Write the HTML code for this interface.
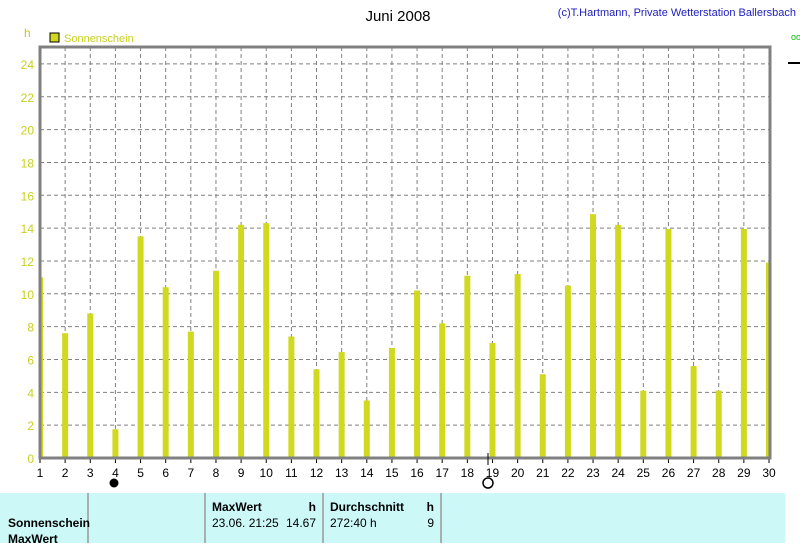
<!DOCTYPE html>
<html><head><meta charset="utf-8"><style>
body{margin:0;background:#fff;width:800px;height:543px;overflow:hidden;font-family:"Liberation Sans",sans-serif;}
svg text{font-family:"Liberation Sans",sans-serif;}
</style></head><body>
<svg id="chart" width="800" height="543">
<text x="398" y="21" font-size="15" text-anchor="middle" fill="#000">Juni 2008</text>
<text x="796" y="16" font-size="11" text-anchor="end" fill="#2020c0">(c)T.Hartmann, Private Wetterstation Ballersbach</text>
<text x="24" y="37" font-size="12" fill="#c8c820">h</text>
<rect x="50" y="33" width="9" height="9" fill="#d0d820" stroke="#000"/>
<text x="64" y="42" font-size="11" fill="#c8d020">Sonnenschein</text>
<g id="grid"></g><g id="bars"></g><g id="axes"></g>
<rect x="40" y="47" width="730" height="411" fill="none" stroke="#808080" stroke-width="3"/>
<line x1="488" y1="453" x2="488" y2="465" stroke="#000"/>
<circle cx="114" cy="483" r="4.5" fill="#000"/>
<circle cx="488" cy="483" r="5" fill="#fff" stroke="#000" stroke-width="1.5"/>
<rect x="0" y="493" width="785" height="50" fill="#ccf8f8"/>
<g stroke="#999" stroke-width="1.5"><line x1="88" y1="493" x2="88" y2="543"/><line x1="205" y1="493" x2="205" y2="543"/><line x1="323" y1="493" x2="323" y2="543"/><line x1="441" y1="493" x2="441" y2="543"/></g>
<g font-size="12" fill="#000">
<text x="8" y="527" font-weight="bold">Sonnenschein</text>
<text x="8" y="543" font-weight="bold">MaxWert</text>
<text x="212" y="511" font-weight="bold">MaxWert</text>
<text x="316" y="511" font-weight="bold" text-anchor="end">h</text>
<text x="212" y="527">23.06.  21:25</text>
<text x="316" y="527" text-anchor="end">14.67</text>
<text x="330" y="511" font-weight="bold">Durchschnitt</text>
<text x="434" y="511" font-weight="bold" text-anchor="end">h</text>
<text x="330" y="527">272:40 h</text>
<text x="434" y="527" text-anchor="end">9</text>
</g>
<line x1="788" y1="63" x2="800" y2="63" stroke="#000" stroke-width="2"/>
<text x="791" y="40" font-size="9" fill="#00c000">oo</text>
</svg>
<script>
const days=[1,2,3,4,5,6,7,8,9,10,11,12,13,14,15,16,17,18,19,20,21,22,23,24,25,26,27,28,29,30];
const sunshine=[11,7.6,8.8,1.75,13.5,10.4,7.7,11.4,14.2,14.3,7.4,5.4,6.45,3.5,6.7,10.2,8.2,11.1,7.0,11.2,5.1,10.5,14.85,14.2,4.1,13.95,5.6,4.1,13.95,11.9];
const yTicks=[0,2,4,6,8,10,12,14,16,18,20,22,24];
const NS='http://www.w3.org/2000/svg';
const x=d=>40+(d-1)*(729/29);
const y=v=>458-v*16.42;
function mk(tag,attrs,parent){const e=document.createElementNS(NS,tag);for(const k in attrs)e.setAttribute(k,attrs[k]);parent.appendChild(e);return e;}
const grid=document.getElementById('grid'),bars=document.getElementById('bars'),axes=document.getElementById('axes');
yTicks.forEach(t=>{
 if(t>0){const l=mk('line',{x1:40,x2:770,y1:y(t),y2:y(t),stroke:'#808080','stroke-dasharray':'4,3'},grid);
 
 }
 const tx=mk('text',{x:34,y:y(t)+5,'font-size':12,'text-anchor':'end',fill:'#c8d020'},axes);tx.textContent=t;
 
 
});
days.forEach((d,i)=>{
 if(d>1&&d<30){const l=mk('line',{x1:x(d),x2:x(d),y1:47,y2:458,stroke:'#808080','stroke-dasharray':'4,3'},grid);
 
 }
 const bx=Math.max(40,x(d)-3),bw=Math.min(x(d)+3,770)-bx;
 const b=mk('rect',{x:bx,y:y(sunshine[i]),width:bw,height:458-y(sunshine[i]),fill:'#d0d820'},bars);
 
 
 mk('line',{x1:x(d),x2:x(d),y1:458,y2:463,stroke:'#000'},axes);
 const tx=mk('text',{x:x(d),y:477,'font-size':12,'text-anchor':'middle',fill:'#000'},axes);tx.textContent=d;
 
 
});
</script>
</body></html>
